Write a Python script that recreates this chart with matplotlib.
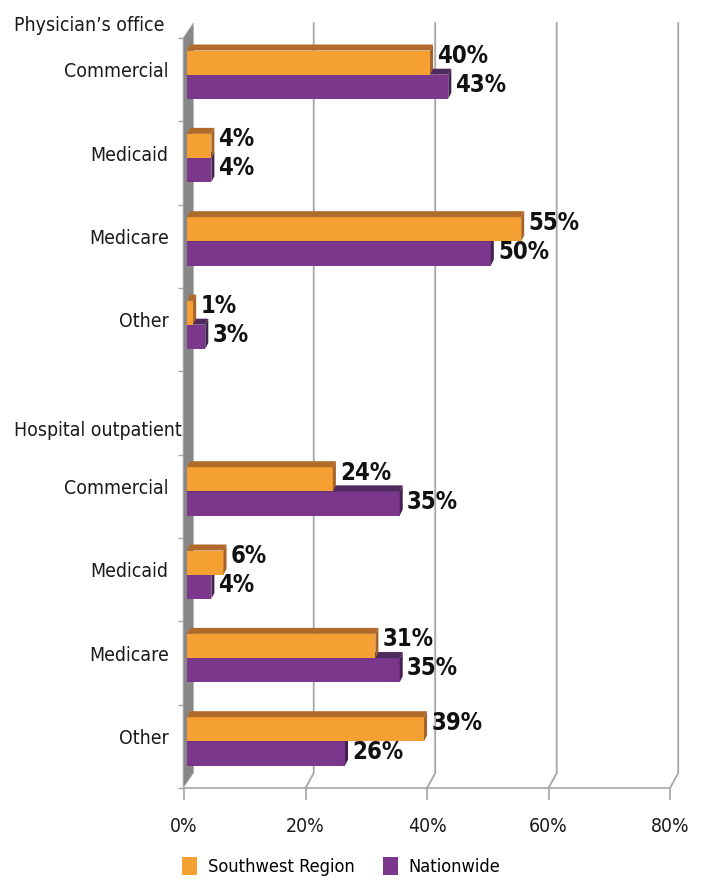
import matplotlib
matplotlib.use("Agg")
import matplotlib.pyplot as plt
from matplotlib import font_manager
from matplotlib.patches import Polygon, Patch
from matplotlib.transforms import blended_transform_factory

# data
groups = ["Physician’s office", "Hospital outpatient"]
payers = ["Commercial", "Medicaid", "Medicare", "Other"]
southwest = [[40, 4, 55, 1], [24, 6, 31, 39]]
nationwide = [[43, 4, 50, 3], [35, 4, 35, 26]]
series_names = ["Southwest Region", "Nationwide"]
xticks = [0, 20, 40, 60, 80]

# the original uses a condensed face; take a condensed one if there is one
fonts = font_manager.fontManager.ttflist
cond = [f for f in fonts if f.name == 'DejaVu Sans' and f.stretch == 'condensed']
narrow = [f for f in fonts if f.name == 'Liberation Sans Narrow']
if narrow:
    FAMILY, STRETCH, SCALE = ['Liberation Sans Narrow', 'DejaVu Sans'], 'normal', 1.0
elif cond:
    FAMILY, STRETCH, SCALE = ['DejaVu Sans', 'DejaVu Sans'], 'condensed', 0.9
else:
    FAMILY, STRETCH, SCALE = ['Liberation Sans', 'DejaVu Sans'], 'normal', 0.9
plt.rcParams['font.family'] = FAMILY
plt.rcParams['font.stretch'] = STRETCH

ORANGE = ("#f4a032", "#b06a2a", "#a5622a")
PURPLE = ("#7b378b", "#4f2a5e", "#432250")
GRID = "#a6a6a6"
WALL = "#878787"
TEXT = "#1a1a1a"

# pseudo 3d geometry (x in %, y in category slots)
BACK_DX, BACK_DY = 1.35, 0.18     # depth of the box
BAR_SHIFT = 0.5                   # bars sit a little behind the front plane
BAR_DX, BAR_DY = 0.5, 0.072       # depth of a bar
BAR_H = 0.29
PAIR_UP = 0.06
n_slots = 9

fig = plt.figure(figsize=(7.01, 8.80), dpi=100)
ax = fig.add_axes([0.2625, 0.1045, 0.6933, 0.8523])
ax.set_xlim(0, 80)
ax.set_ylim(0, n_slots)

# back wall gridlines with the slanted foot on the floor
for x in xticks[1:]:
    ax.plot([x, x + BACK_DX, x + BACK_DX], [0, BACK_DY, n_slots + BACK_DY],
            color=GRID, lw=1.3, zorder=1, clip_on=False)

# left side wall
ax.add_patch(Polygon([(-0.15, 0), (BACK_DX + 0.2, BACK_DY), (BACK_DX + 0.2, n_slots + BACK_DY), (-0.15, n_slots)],
                     closed=True, fc=WALL, ec="#b5b5b5", lw=0.6, zorder=2, clip_on=False))


def bar3d(y0, length, colors, z):
    face, top, side = colors
    x0 = BAR_SHIFT
    x1 = x0 + length
    ax.barh(y0, length, height=BAR_H, left=x0, align='edge', color=face, zorder=z)
    y1 = y0 + BAR_H
    ax.add_patch(Polygon([(x0, y1), (x1, y1), (x1 + BAR_DX, y1 + BAR_DY), (x0 + BAR_DX, y1 + BAR_DY)],
                         closed=True, fc=top, ec='none', zorder=z, clip_on=False))
    ax.add_patch(Polygon([(x1, y0), (x1 + BAR_DX, y0 + BAR_DY), (x1 + BAR_DX, y1 + BAR_DY), (x1, y1)],
                         closed=True, fc=side, ec='none', zorder=z, clip_on=False))


def label(y, value, up):
    ax.annotate(f"{value}%", xy=(BAR_SHIFT + value + BAR_DX, y + up), xytext=(3, 0),
                textcoords='offset points', ha='left', va='center', fontsize=19 * SCALE,
                fontweight='bold', color='#111111', zorder=6)


label_pos = []
label_txt = []
for g, name in enumerate(groups):
    for i, payer in enumerate(payers):
        slot = g * 5 + i
        c = n_slots - slot - 0.5
        mid = c + PAIR_UP
        label_pos.append(c + 0.12)
        label_txt.append(payer)
        bar3d(mid - BAR_H, nationwide[g][i], PURPLE, 3)
        bar3d(mid, southwest[g][i], ORANGE, 4)
        label(mid + BAR_H / 2, southwest[g][i], 0.08)
        label(mid - BAR_H / 2, nationwide[g][i], 0.02)

# group headers
trans = blended_transform_factory(fig.transFigure, ax.transData)
ax.text(0.02, n_slots + 0.156, groups[0], transform=trans, ha='left', va='center',
        fontsize=15.5 * SCALE, color=TEXT, clip_on=False)
ax.text(0.02, n_slots - 4.705, groups[1], transform=trans, ha='left', va='center',
        fontsize=15.5 * SCALE, color=TEXT, clip_on=False)

# axes styling
for s in ['top', 'right', 'left']:
    ax.spines[s].set_visible(False)
ax.spines['bottom'].set_color(GRID)
ax.spines['bottom'].set_linewidth(1.2)
ax.set_xticks(xticks)
ax.set_xticklabels([f"{t}%" for t in xticks])
ax.tick_params(axis='x', length=8.6, width=1.2, color=GRID, pad=12, labelsize=15.5 * SCALE, labelcolor=TEXT)
ax.set_yticks(label_pos)
ax.set_yticklabels(label_txt)
ax.set_yticks(range(n_slots + 1), minor=True)
ax.tick_params(axis='y', which='major', length=0, pad=11, labelsize=15.5 * SCALE, labelcolor=TEXT)
ax.tick_params(axis='y', which='minor', length=4, width=1, color=GRID)

handles = [Patch(facecolor=ORANGE[0]), Patch(facecolor=PURPLE[0])]
fig.legend(handles, series_names, loc='lower center', bbox_to_anchor=(0.487, -0.008),
           ncol=2, frameon=False, fontsize=14.5 * SCALE, handlelength=0.8, handleheight=1.2,
           handletextpad=0.6, columnspacing=1.6, borderpad=0.1)

fig.savefig("out.png", dpi=100)
